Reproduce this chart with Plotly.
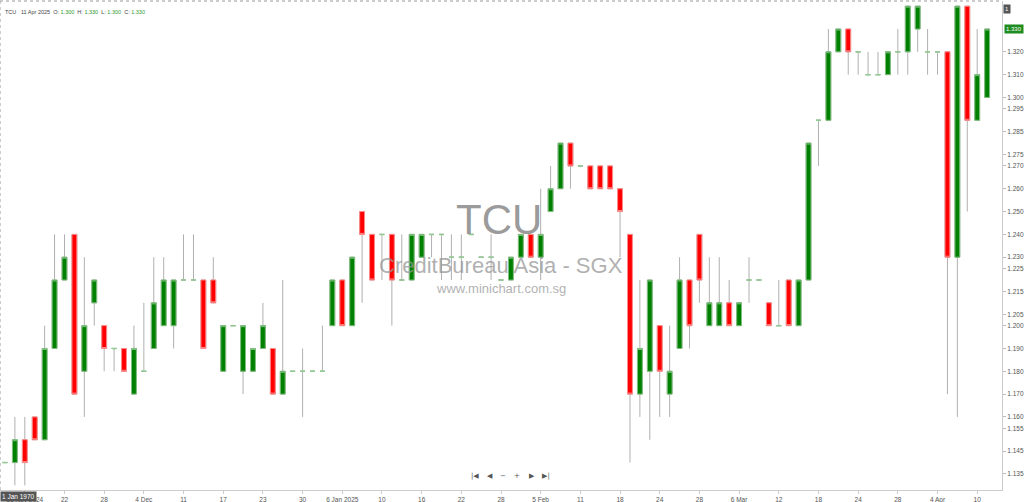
import plotly.graph_objects as go

# ---- data ----
opens = [1.14,1.14,1.15,1.16,1.15,1.19,1.22,1.24,1.18,1.21,
         1.20,1.19,1.19,1.17,1.18,1.19,1.20,1.20,1.22,1.22,
         1.22,1.22,1.18,1.20,1.18,1.18,1.19,1.19,1.17,1.18,
         1.18,1.18,1.18,1.20,1.22,1.20,1.25,1.24,1.24,1.24,
         1.22,1.22,1.23,1.24,1.24,1.23,1.23,1.24,1.23,1.23,
         1.22,1.22,1.23,1.24,1.23,1.25,1.26,1.28,1.27,1.27,
         1.27,1.27,1.26,1.24,1.17,1.18,1.20,1.17,1.19,1.22,
         1.24,1.20,1.20,1.21,1.20,1.22,1.22,1.21,1.20,1.22,
         1.20,1.22,1.29,1.29,1.32,1.33,1.32,1.31,1.31,1.31,
         1.32,1.32,1.33,1.32,1.32,1.32,1.23,1.34,1.29,1.30]
highs = [1.14,1.16,1.16,1.16,1.20,1.24,1.24,1.24,1.23,1.22,
         1.20,1.19,1.19,1.20,1.21,1.23,1.23,1.22,1.24,1.24,
         1.22,1.23,1.20,1.20,1.20,1.19,1.21,1.19,1.22,1.18,
         1.19,1.18,1.20,1.22,1.22,1.23,1.25,1.24,1.24,1.24,
         1.24,1.24,1.24,1.24,1.24,1.24,1.24,1.24,1.23,1.24,
         1.22,1.23,1.24,1.24,1.26,1.27,1.28,1.28,1.27,1.27,
         1.27,1.27,1.26,1.24,1.22,1.22,1.20,1.20,1.23,1.22,
         1.24,1.23,1.23,1.22,1.21,1.23,1.22,1.21,1.22,1.22,
         1.22,1.28,1.29,1.33,1.33,1.33,1.32,1.32,1.32,1.32,
         1.33,1.34,1.34,1.33,1.32,1.32,1.34,1.34,1.33,1.33]
lows = [1.14,1.13,1.13,1.15,1.15,1.19,1.22,1.17,1.16,1.20,
        1.18,1.18,1.18,1.17,1.18,1.19,1.20,1.19,1.22,1.22,
        1.19,1.21,1.18,1.20,1.17,1.18,1.19,1.17,1.17,1.18,
        1.16,1.18,1.18,1.20,1.20,1.20,1.21,1.22,1.22,1.20,
        1.22,1.22,1.23,1.23,1.22,1.22,1.22,1.24,1.23,1.22,
        1.22,1.22,1.23,1.23,1.22,1.25,1.26,1.26,1.27,1.26,
        1.26,1.26,1.23,1.14,1.16,1.15,1.16,1.16,1.19,1.19,
        1.21,1.20,1.20,1.20,1.20,1.21,1.22,1.20,1.20,1.20,
        1.20,1.22,1.27,1.29,1.32,1.31,1.31,1.31,1.31,1.31,
        1.31,1.31,1.32,1.31,1.31,1.17,1.16,1.25,1.29,1.30]
closes = [1.14,1.15,1.14,1.15,1.19,1.22,1.23,1.17,1.20,1.22,
          1.19,1.19,1.18,1.19,1.18,1.21,1.22,1.22,1.22,1.22,
          1.19,1.21,1.20,1.20,1.20,1.19,1.20,1.17,1.18,1.18,
          1.18,1.18,1.18,1.22,1.20,1.23,1.24,1.22,1.24,1.22,
          1.22,1.24,1.24,1.24,1.24,1.23,1.23,1.24,1.23,1.23,
          1.22,1.23,1.24,1.23,1.24,1.26,1.28,1.27,1.27,1.26,
          1.26,1.26,1.25,1.17,1.19,1.22,1.18,1.18,1.22,1.20,
          1.22,1.21,1.21,1.20,1.21,1.22,1.22,1.20,1.20,1.20,
          1.22,1.28,1.29,1.32,1.33,1.32,1.32,1.31,1.31,1.32,
          1.32,1.34,1.34,1.32,1.32,1.23,1.34,1.29,1.31,1.33]
day_index = list(range(len(opens)))

x_tick_pos = [2, 6, 10, 14, 18, 22, 26, 30, 34, 38, 42, 46, 50, 54, 58,
              62, 66, 70, 74, 78, 82, 86, 90, 94, 98]
x_tick_text = ["18 Nov 2024", "22", "28", "4 Dec", "11", "17", "23", "30",
               "6 Jan 2025", "10", "16", "22", "28", "5 Feb", "11", "18",
               "24", "28", "6 Mar", "12", "18", "24", "28", "4 Apr", "10"]
# 1.330 is shown by the last-price tag instead of a tick label
y_tick_vals = [1.320, 1.310, 1.300, 1.295, 1.285, 1.275, 1.270, 1.260,
               1.250, 1.240, 1.230, 1.225, 1.215, 1.205, 1.200, 1.190, 1.180,
               1.170, 1.160, 1.155, 1.145, 1.135]
y_tick_text = ["%.3f" % v for v in y_tick_vals]

# ---- derived series ----
is_doji = [abs(o - c) < 1e-9 for o, c in zip(opens, closes)]
b_open = [None if d else o for o, d in zip(opens, is_doji)]
b_close = [None if d else c for c, d in zip(closes, is_doji)]
b_high = [None if d else max(o, c) for o, c, d in zip(opens, closes, is_doji)]
b_low = [None if d else min(o, c) for o, c, d in zip(opens, closes, is_doji)]
d_val = [o if d else None for o, d in zip(opens, is_doji)]

GRAY = "#b0b0b0"
fig = go.Figure()
# wicks
fig.add_trace(go.Candlestick(
    x=day_index, open=opens, high=highs, low=lows, close=closes,
    increasing=dict(line=dict(color=GRAY, width=1), fillcolor="rgba(0,0,0,0)"),
    decreasing=dict(line=dict(color=GRAY, width=1), fillcolor="rgba(0,0,0,0)"),
    hoverinfo="skip", showlegend=False))
# bodies
fig.add_trace(go.Candlestick(
    x=day_index, open=b_open, high=b_high, low=b_low, close=b_close,
    increasing=dict(line=dict(color="#7fbf7f", width=1), fillcolor="#008000"),
    decreasing=dict(line=dict(color="#ff8a8a", width=1), fillcolor="#ff0000"),
    showlegend=False))
# doji dashes
fig.add_trace(go.Candlestick(
    x=day_index, open=d_val, high=d_val, low=d_val, close=d_val,
    increasing=dict(line=dict(color="#8fcc8f", width=1.5), fillcolor="#8fcc8f"),
    decreasing=dict(line=dict(color="#8fcc8f", width=1.5), fillcolor="#8fcc8f"),
    showlegend=False))

FONT = "Liberation Sans, Arial, sans-serif"
H = 489.0
def py(pix):
    return (490 - pix) / H

ann = []
# watermark
ann.append(dict(text="TCU", x=0.498, y=py(220), xref="paper", yref="paper",
                showarrow=False, font=dict(size=42, color="rgba(128,128,128,0.8)", family=FONT)))
ann.append(dict(text="CreditBureau Asia - SGX", x=0.5, y=py(265), xref="paper", yref="paper",
                showarrow=False, font=dict(size=22, color="rgba(150,150,150,0.75)", family=FONT)))
ann.append(dict(text="www.minichart.com.sg", x=0.5, y=py(289), xref="paper", yref="paper",
                showarrow=False, font=dict(size=13, color="rgba(150,150,150,0.75)", family=FONT)))
# header
g = "#2e9a2e"
hdr = ("TCU &nbsp; 11 Apr 2025 &nbsp;O: <span style='color:%s'>1.300</span> &nbsp;H: "
       "<span style='color:%s'>1.330</span> &nbsp;L: <span style='color:%s'>1.300</span> &nbsp;C: "
       "<span style='color:%s'>1.330</span>") % (g, g, g, g)
ann.append(dict(text=hdr, x=3 / 1002, y=py(7), xref="paper", yref="paper", xanchor="left",
                showarrow=False, font=dict(size=5.5, color="#444", family=FONT)))
# navigation controls
for sym, px in [("|◀", 475), ("◀", 490), ("−", 503), ("+", 517), ("▶", 532), ("▶|", 546)]:
    ann.append(dict(text=sym, x=px / 1002, y=py(482), xref="paper", yref="paper",
                    showarrow=False, font=dict(size=7, color="#555", family="DejaVu Sans")))
# corner boxes
ann.append(dict(text="1 Jan 1970", x=0, y=py(502), xref="paper", yref="paper",
                xanchor="left", yanchor="bottom",
                showarrow=False, bgcolor="#555", borderpad=1,
                font=dict(size=6.5, color="white", family=FONT)))
ann.append(dict(text="1", x=1, y=py(4), xref="paper", yref="paper", xanchor="left",
                xshift=1, showarrow=False, bgcolor="#555", borderpad=1,
                font=dict(size=6, color="white", family=FONT)))
ann.append(dict(text="1.330", x=1, y=closes[-1], xref="paper", yref="y", xanchor="left",
                xshift=2, showarrow=False, bgcolor="#1e8c1e", borderpad=1,
                font=dict(size=6, color="white", family=FONT)))

shapes = [
    dict(type="line", xref="paper", yref="paper", x0=0, x1=1, y0=1, y1=1,
         line=dict(color="#999", width=1, dash="dot")),
    dict(type="line", xref="paper", yref="paper", x0=0, x1=0, y0=0, y1=1,
         line=dict(color="#999", width=1, dash="dot")),
]

fig.update_layout(
    width=1024, height=502,
    margin=dict(l=0, r=22, t=1, b=12, autoexpand=False),
    paper_bgcolor="white", plot_bgcolor="white",
    showlegend=False, annotations=ann, shapes=shapes,
    font=dict(family=FONT),
    xaxis=dict(range=[-0.5, 100.5], rangeslider=dict(visible=False),
               tickvals=x_tick_pos, ticktext=x_tick_text,
               showgrid=False, zeroline=False, showline=True, linecolor="#ccc",
               ticks="outside", ticklen=3, tickcolor="#ccc",
               tickfont=dict(size=6.5, color="#555", family=FONT)),
    yaxis=dict(range=[1.12798, 1.34227], side="right",
               tickvals=y_tick_vals, ticktext=y_tick_text,
               showgrid=False, zeroline=False, showline=True, linecolor="#ccc",
               ticks="outside", ticklen=3, tickcolor="#bbb",
               tickfont=dict(size=6.5, color="#555", family=FONT)),
)

fig.write_html("out.html", config={"displayModeBar": False},
               post_script="document.body.style.margin='0';document.body.style.overflow='hidden';")
